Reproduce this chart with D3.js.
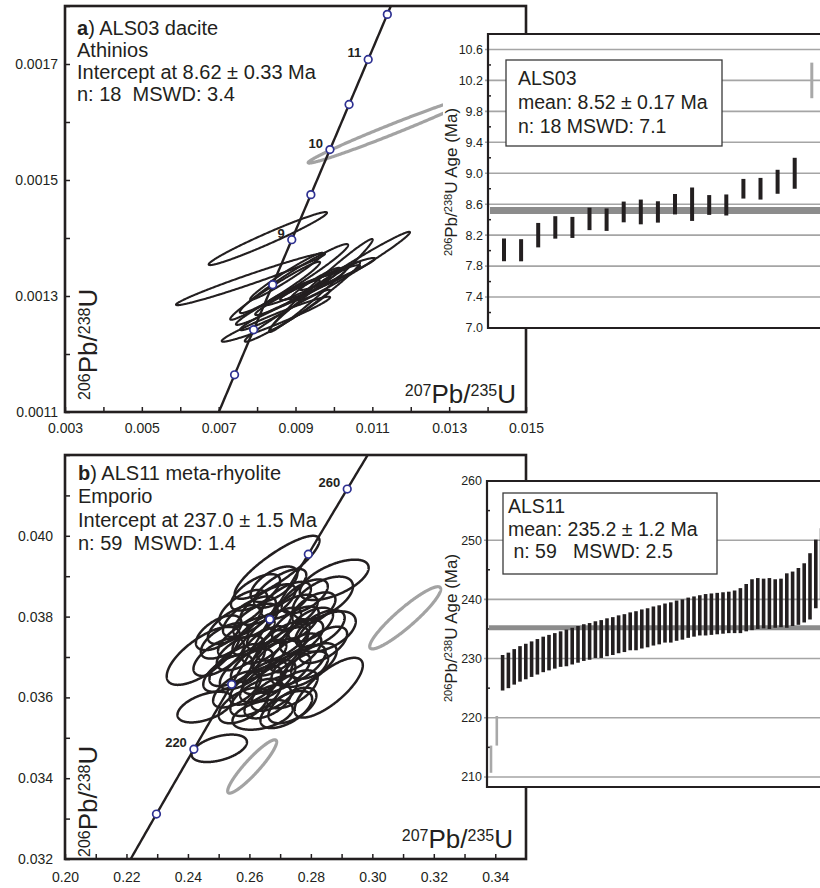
<!DOCTYPE html>
<html>
<head>
<meta charset="utf-8">
<script src="https://cdn.jsdelivr.net/npm/d3@7/dist/d3.min.js"></script>
<style>
  body { margin: 0; background: #fff; }
  svg { display: block; font-family: "Liberation Sans", Arial, Helvetica, sans-serif; }
  svg text { fill: #231f20; white-space: pre; }
</style>
</head>
<body>
<div id="chart"></div>
<script>
// decay constants (1/yr) for the Wetherill concordia
var lambda238 = 1.55125e-10;
var lambda235 = 9.8485e-10;

// ---- panel a : ALS03 ----
var ticksAX = [0.003, 0.004, 0.005, 0.006, 0.007, 0.008, 0.009, 0.010, 0.011, 0.012, 0.013, 0.014, 0.015];
var labelsAX = [0.003, 0.005, 0.007, 0.009, 0.011, 0.013, 0.015];
var ticksAY = [0.0011, 0.0012, 0.0013, 0.0014, 0.0015, 0.0016, 0.0017, 0.0018];
var labelsAY = [0.0011, 0.0013, 0.0015, 0.0017];
var markerAgesA = [7.5, 8, 8.5, 9, 9.5, 10, 10.5, 11, 11.5];
var labelledAgesA = [9, 10, 11];
// [207/235, 206/238, 2s 207/235, 2s 206/238, rho]
var ellipsesA = [
  [0.00828, 0.001399, 0.00154, 0.0000457, 0.975],
  [0.00783, 0.001329, 0.00194, 0.0000448, 0.98],
  [0.01055, 0.001352, 0.00143, 0.0000586, 0.985],
  [0.00896, 0.001330, 0.00141, 0.0000595, 0.97],
  [0.00966, 0.001318, 0.00135, 0.0000802, 0.985],
  [0.00849, 0.001260, 0.00141, 0.0000388, 0.97],
  [0.00879, 0.001266, 0.00111, 0.0000448, 0.975],
  [0.00951, 0.001300, 0.00117, 0.0000586, 0.98],
  [0.00847, 0.001309, 0.00117, 0.0000500, 0.975],
  [0.00912, 0.001306, 0.00117, 0.0000388, 0.97],
  [0.00905, 0.001310, 0.00085, 0.0000259, 0.96],
  [0.00964, 0.001323, 0.00104, 0.0000302, 0.96],
  [0.00834, 0.001267, 0.00078, 0.0000259, 0.96],
  [0.00951, 0.001321, 0.00065, 0.0000276, 0.95],
  [0.00854, 0.001289, 0.00109, 0.0000388, 0.97],
  [0.00877, 0.001334, 0.00095, 0.0000405, 0.975],
  [0.01009, 0.001338, 0.00098, 0.0000276, 0.96]
];
var rejectedA = [
  [0.01150, 0.001587, 0.00217, 0.0000578, 0.987]
];
var linesA = [') ALS03 dacite', 'Athinios', 'Intercept at 8.62 ± 0.33 Ma', 'n: 18  MSWD: 3.4'];

// inset a : 206Pb/238U ages (Ma) and 2s errors, last one rejected
var insetAAges = [8.01, 8.005, 8.20, 8.30, 8.30, 8.41, 8.40, 8.50, 8.50, 8.50, 8.60, 8.60, 8.59, 8.59, 8.80, 8.80, 8.89, 9.00, 10.20];
var insetAErrs = [0.147, 0.143, 0.158, 0.145, 0.136, 0.145, 0.145, 0.134, 0.160, 0.138, 0.132, 0.216, 0.128, 0.136, 0.127, 0.140, 0.155, 0.200, 0.230];
var insetARejected = [18];
var insetALabels = [7.0, 7.4, 7.8, 8.2, 8.6, 9.0, 9.4, 9.8, 10.2, 10.6];
var insetAGrid = [7.4, 7.8, 8.2, 8.6, 9.0, 9.4, 9.8, 10.2, 10.6];
var insetAMinor = [7.2, 7.6, 8.0, 8.4, 8.8, 9.2, 9.6, 10.0, 10.4];
var boxA = ['ALS03', 'mean: 8.52 ± 0.17 Ma', 'n: 18 MSWD: 7.1'];

// ---- panel b : ALS11 ----
var ticksBX = [0.20, 0.21, 0.22, 0.23, 0.24, 0.25, 0.26, 0.27, 0.28, 0.29, 0.30, 0.31, 0.32, 0.33, 0.34];
var labelsBX = [0.20, 0.22, 0.24, 0.26, 0.28, 0.30, 0.32, 0.34];
var ticksBY = [0.032, 0.033, 0.034, 0.035, 0.036, 0.037, 0.038, 0.039, 0.040, 0.041, 0.042];
var labelsBY = [0.032, 0.034, 0.036, 0.038, 0.040];
var markerAgesB = [210, 220, 230, 240, 250, 260];
var labelledAgesB = [220, 260];
var ellipsesB = [
  [0.2690, 0.03922, 0.0138, 0.00078, 0.85],
  [0.2876, 0.03891, 0.0112, 0.00050, 0.60],
  [0.2450, 0.03703, 0.0119, 0.00072, 0.70],
  [0.2456, 0.03576, 0.0090, 0.00038, 0.50],
  [0.2502, 0.03474, 0.0090, 0.00034, 0.45],
  [0.2643, 0.03557, 0.0098, 0.00037, 0.40],
  [0.2858, 0.03624, 0.0111, 0.00074, 0.75],
  [0.2852, 0.03763, 0.0094, 0.00050, 0.50],
  [0.2839, 0.03846, 0.0098, 0.00053, 0.55],
  [0.262, 0.0386, 0.0080, 0.00045, 0.65],
  [0.270, 0.0387, 0.0085, 0.00048, 0.70],
  [0.278, 0.0385, 0.0075, 0.00042, 0.60],
  [0.258, 0.0382, 0.0078, 0.00046, 0.62],
  [0.266, 0.0383, 0.0090, 0.00050, 0.70],
  [0.274, 0.0381, 0.0082, 0.00044, 0.58],
  [0.281, 0.0382, 0.0070, 0.00040, 0.55],
  [0.255, 0.0378, 0.0085, 0.00048, 0.66],
  [0.262, 0.0379, 0.0072, 0.00042, 0.60],
  [0.268, 0.0377, 0.0088, 0.00052, 0.72],
  [0.275, 0.0378, 0.0076, 0.00045, 0.62],
  [0.283, 0.0377, 0.0080, 0.00046, 0.58],
  [0.252, 0.0374, 0.0078, 0.00044, 0.60],
  [0.259, 0.0375, 0.0092, 0.00050, 0.70],
  [0.265, 0.0373, 0.0074, 0.00046, 0.64],
  [0.271, 0.0374, 0.0086, 0.00049, 0.68],
  [0.277, 0.0375, 0.0070, 0.00042, 0.55],
  [0.284, 0.0373, 0.0078, 0.00045, 0.60],
  [0.250, 0.0370, 0.0082, 0.00047, 0.62],
  [0.257, 0.0371, 0.0076, 0.00043, 0.58],
  [0.263, 0.0369, 0.0090, 0.00052, 0.72],
  [0.269, 0.0370, 0.0078, 0.00046, 0.65],
  [0.275, 0.0371, 0.0084, 0.00048, 0.62],
  [0.281, 0.0369, 0.0074, 0.00044, 0.56],
  [0.253, 0.0366, 0.0080, 0.00046, 0.60],
  [0.259, 0.0367, 0.0086, 0.00050, 0.68],
  [0.265, 0.0365, 0.0072, 0.00042, 0.58],
  [0.271, 0.0366, 0.0088, 0.00049, 0.66],
  [0.278, 0.0367, 0.0076, 0.00044, 0.60],
  [0.256, 0.0362, 0.0078, 0.00045, 0.62],
  [0.262, 0.0363, 0.0084, 0.00048, 0.66],
  [0.268, 0.0361, 0.0074, 0.00043, 0.56],
  [0.274, 0.0362, 0.0082, 0.00047, 0.60],
  [0.258, 0.0358, 0.0080, 0.00044, 0.55],
  [0.266, 0.0359, 0.0076, 0.00042, 0.52],
  [0.272, 0.0357, 0.0084, 0.00046, 0.58],
  [0.264, 0.0376, 0.0095, 0.00055, 0.74],
  [0.270, 0.0372, 0.0092, 0.00054, 0.72],
  [0.260, 0.0380, 0.0086, 0.00050, 0.68],
  [0.272, 0.0384, 0.0080, 0.00046, 0.62],
  [0.256, 0.0368, 0.0090, 0.00052, 0.66],
  [0.276, 0.0368, 0.0088, 0.00050, 0.64],
  [0.266, 0.0364, 0.0090, 0.00052, 0.66],
  [0.280, 0.0378, 0.0072, 0.00042, 0.56],
  [0.250, 0.0376, 0.0074, 0.00043, 0.58],
  [0.268, 0.0388, 0.0076, 0.00044, 0.60],
  [0.262, 0.0360, 0.0082, 0.00046, 0.60],
  [0.274, 0.0358, 0.0078, 0.00044, 0.56]
];
var rejectedB = [
  [0.3107, 0.03797, 0.01155, 0.00077, 0.92],
  [0.2609, 0.03429, 0.00797, 0.00066, 0.92]
];
var linesB = [') ALS11 meta-rhyolite', 'Emporio', 'Intercept at 237.0 ± 1.5 Ma', 'n: 59  MSWD: 1.4'];

// inset b : ages (Ma) and 2s errors, first two rejected
var insetBAges = [213.0, 217.8,
  227.6, 228.0, 228.6, 229.1, 229.5, 229.9, 230.3, 230.7, 231.0, 231.3, 231.6,
  231.8, 232.1, 232.4, 232.7, 232.9, 233.2,
  233.3, 233.6, 233.8, 234.1, 234.3, 234.6,
  234.7, 235.0, 235.2, 235.5, 235.7, 236.0,
  236.1, 236.4, 236.6, 236.9, 237.1, 237.3,
  237.4, 237.5, 237.6, 237.7,
  237.8, 237.9, 238.1, 238.6,
  239.1, 239.3, 239.3, 239.3, 239.3, 239.4,
  239.8, 240.1, 240.5, 241.1,
  242.2, 244.3, 246.0, 248.0, 249.5, 251.0];
var insetBErrs = [2.3, 2.5,
  3.0, 3.0, 3.0, 3.0, 3.0, 3.0, 3.0, 3.0, 3.0, 3.0, 3.0,
  3.1, 3.1, 3.1, 3.1, 3.1, 3.1,
  3.2, 3.2, 3.2, 3.2, 3.2, 3.2,
  3.3, 3.3, 3.3, 3.3, 3.3, 3.3,
  3.4, 3.4, 3.4, 3.4, 3.4, 3.4,
  3.5, 3.5, 3.5, 3.5,
  3.5, 3.6, 3.8, 4.0,
  4.3, 4.3, 4.2, 4.3, 4.1, 4.1,
  4.6, 4.6, 4.8, 5.0,
  5.6, 5.8, 6.0, 6.0, 6.5, 7.0];
var insetBRejected = [0, 1];
var insetBLabels = [210, 220, 230, 240, 250, 260];
var insetBGrid = [210, 220, 230, 240, 250];
var insetBMinor = [215, 225, 235, 245, 255];
var boxB = ['ALS11', 'mean: 235.2 ± 1.2 Ma', ' n: 59   MSWD: 2.5'];

(function (d3) {
  'use strict';

  var W = 820, H = 888;
  var ink = '#231f20';
  var svg = d3.select('#chart').append('svg').attr('width', W).attr('height', H);

  function r235(t) { return Math.exp(lambda235 * t * 1e6) - 1; }
  function r238(t) { return Math.exp(lambda238 * t * 1e6) - 1; }
  function inList(list, d) { return list.some(function (v) { return Math.abs(v - d) < 1e-9; }); }

  // error ellipse from 2s errors and correlation
  function ellipsePoints(e) {
    var k = Math.sqrt(1 - e[4] * e[4]);
    return d3.range(0, 360, 1).map(function (deg) {
      var a = deg * Math.PI / 180;
      return [e[0] + e[2] * Math.cos(a), e[1] + e[3] * (e[4] * Math.cos(a) + k * Math.sin(a))];
    });
  }

  // "206Pb/238U" style label, even parts are superscripts
  function isoLabel(g, x, y, rot, anchor, parts, big, small, shift) {
    var t = g.append('text')
      .attr('transform', 'translate(' + x + ',' + y + ') rotate(' + rot + ')')
      .attr('text-anchor', anchor);
    var up = false;
    parts.forEach(function (p, i) {
      var sup = i % 2 === 0;
      var dy = 0;
      if (sup && !up) dy = -shift;
      if (!sup && up) dy = shift;
      up = sup;
      t.append('tspan').attr('dy', dy).style('font-size', (sup ? small : big) + 'px').text(p);
    });
  }

  function styleAxis(ga) {
    ga.attr('font-size', null).attr('font-family', null);
    ga.select('.domain').remove();
    ga.selectAll('line').attr('stroke', ink).attr('stroke-width', 1.5);
    ga.selectAll('text').style('font-size', '14px');
  }

  function drawPanel(p) {
    var x = d3.scaleLinear().domain(p.xDomain).range([p.left, p.right]);
    var y = d3.scaleLinear().domain(p.yDomain).range([p.bottom, p.top]);
    var g = svg.append('g');

    svg.append('clipPath').attr('id', 'clip-' + p.id)
      .append('rect')
      .attr('x', p.left).attr('y', p.top)
      .attr('width', p.right - p.left).attr('height', p.bottom - p.top);
    var plot = g.append('g').attr('clip-path', 'url(#clip-' + p.id + ')');

    var ell = d3.line()
      .x(function (d) { return x(d[0]); })
      .y(function (d) { return y(d[1]); })
      .curve(d3.curveLinearClosed);

    plot.selectAll('path.ell').data(p.ellipses).enter().append('path')
      .attr('class', 'ell')
      .attr('d', function (e) { return ell(ellipsePoints(e)); })
      .attr('fill', 'none').attr('stroke', ink).attr('stroke-width', p.ellW);

    plot.selectAll('path.rej').data(p.rejected).enter().append('path')
      .attr('class', 'rej')
      .attr('d', function (e) { return ell(ellipsePoints(e)); })
      .attr('fill', 'none').attr('stroke', '#a3a3a3').attr('stroke-width', 3.2);

    // concordia curve
    var ages = d3.range(p.ageRange[0], p.ageRange[1], (p.ageRange[1] - p.ageRange[0]) / 200);
    plot.append('path').datum(ages)
      .attr('d', d3.line().x(function (t) { return x(r235(t)); }).y(function (t) { return y(r238(t)); }))
      .attr('fill', 'none').attr('stroke', ink).attr('stroke-width', 2.4);

    plot.selectAll('circle').data(p.markers).enter().append('circle')
      .attr('cx', function (t) { return x(r235(t)); })
      .attr('cy', function (t) { return y(r238(t)); })
      .attr('r', 3.8)
      .attr('fill', '#fff').attr('stroke', '#2e3192').attr('stroke-width', 1.7);

    g.selectAll('text.age').data(p.labelled).enter().append('text')
      .attr('class', 'age')
      .attr('x', function (t) { return x(r235(t)) - 7; })
      .attr('y', function (t) { return y(r238(t)) - 2; })
      .attr('text-anchor', 'end')
      .style('font-size', '13px').style('font-weight', 'bold')
      .text(String);

    // axes, ticks pointing inwards
    var gx = g.append('g').attr('transform', 'translate(0,' + p.bottom + ')')
      .call(d3.axisBottom(x).tickValues(p.xTicks).tickSizeInner(-5).tickSizeOuter(0).tickPadding(p.xPad)
        .tickFormat(function (d) { return inList(p.xLabels, d) ? p.xFormat(d) : ''; }));
    styleAxis(gx);
    var gy = g.append('g').attr('transform', 'translate(' + p.left + ',0)')
      .call(d3.axisLeft(y).tickValues(p.yTicks).tickSizeInner(-5).tickSizeOuter(0).tickPadding(p.yPad)
        .tickFormat(function (d) { return inList(p.yLabels, d) ? p.yFormat(d) : ''; }));
    styleAxis(gy);

    g.append('rect')
      .attr('x', p.left).attr('y', p.top)
      .attr('width', p.right - p.left).attr('height', p.bottom - p.top)
      .attr('fill', 'none').attr('stroke', ink).attr('stroke-width', 2.6);

    // sample text
    p.lines.forEach(function (l, i) {
      var t = g.append('text').attr('x', p.textX).attr('y', p.textY + i * p.lineH).style('font-size', '20px');
      if (i === 0) t.append('tspan').style('font-weight', 'bold').text(p.tag);
      t.append('tspan').text(l);
    });

    isoLabel(g, p.xLabelPos[0], p.xLabelPos[1], 0, 'end', ['207', 'Pb/', '235', 'U'], 26, 16, 7);
    isoLabel(g, p.yLabelPos[0], p.yLabelPos[1], -90, 'start', ['206', 'Pb/', '238', 'U'], 26, 16, 7);
  }

  function drawInset(q) {
    var y = d3.scaleLinear().domain(q.yDomain).range([q.bottom, q.top]);
    var x = d3.scaleLinear().domain([0, 1]).range([q.x0, q.x0 + q.step]);
    var right = W + 10;
    var g = svg.append('g');

    g.append('rect')
      .attr('x', q.bgLeft).attr('y', q.top)
      .attr('width', right - q.bgLeft).attr('height', q.bottom - q.top)
      .attr('fill', '#fff');

    g.selectAll('line.grid').data(q.grid).enter().append('line')
      .attr('class', 'grid')
      .attr('x1', q.left - 3).attr('x2', right)
      .attr('y1', function (d) { return y(d); }).attr('y2', function (d) { return y(d); })
      .attr('stroke', '#a5a5a5').attr('stroke-width', 1.6);

    g.selectAll('line.minor').data(q.minor).enter().append('line')
      .attr('class', 'minor')
      .attr('x1', q.left - 1).attr('x2', q.left + 3)
      .attr('y1', function (d) { return y(d); }).attr('y2', function (d) { return y(d); })
      .attr('stroke', ink).attr('stroke-width', 1.5);

    g.selectAll('text.tick').data(q.labels).enter().append('text')
      .attr('class', 'tick')
      .attr('x', q.left - 5)
      .attr('y', function (d) { return y(d); })
      .attr('dy', '0.35em').attr('text-anchor', 'end')
      .style('font-size', '12.5px')
      .text(q.format);

    g.append('line')
      .attr('x1', q.left + 2).attr('x2', right)
      .attr('y1', y(q.mean)).attr('y2', y(q.mean))
      .attr('stroke', '#8c8c8c').attr('stroke-width', q.meanW);

    g.selectAll('line.bar').data(d3.range(q.ages.length)).enter().append('line')
      .attr('class', 'bar')
      .attr('x1', function (i) { return x(i); }).attr('x2', function (i) { return x(i); })
      .attr('y1', function (i) { return y(q.ages[i] - q.errs[i]); })
      .attr('y2', function (i) { return y(q.ages[i] + q.errs[i]); })
      .attr('stroke', function (i) { return q.rejected.indexOf(i) >= 0 ? '#a8a8a8' : ink; })
      .attr('stroke-width', function (i) { return q.rejected.indexOf(i) >= 0 ? q.barW - 1 : q.barW; });

    g.append('path')
      .attr('d', 'M' + right + ',' + q.top + 'H' + q.left + 'V' + q.bottom + 'H' + right)
      .attr('fill', 'none').attr('stroke', ink).attr('stroke-width', 2.2);

    g.append('rect')
      .attr('x', q.box[0]).attr('y', q.box[1]).attr('width', q.box[2]).attr('height', q.box[3])
      .attr('fill', '#fff').attr('stroke', '#3a3a3a').attr('stroke-width', 1.3);
    q.lines.forEach(function (l, i) {
      g.append('text').attr('x', q.textX).attr('y', q.textY + i * q.lineH)
        .style('font-size', '19.5px').text(l);
    });

    isoLabel(g, 457, q.labelY, -90, 'middle', ['206', 'Pb/', '238', 'U Age (Ma)'], 17, 11, 5);
  }

  drawPanel({
    id: 'a', left: 65, right: 526, top: 6, bottom: 412,
    xDomain: [0.003, 0.015], yDomain: [0.0011, 0.0018],
    xTicks: ticksAX, xLabels: labelsAX, xFormat: d3.format('.3f'), xPad: 11,
    yTicks: ticksAY, yLabels: labelsAY, yFormat: d3.format('.4f'), yPad: 7,
    ellipses: ellipsesA, rejected: rejectedA, ellW: 2.1,
    markers: markerAgesA, labelled: labelledAgesA, ageRange: [6.5, 12.5],
    tag: 'a', lines: linesA, textX: 77, textY: 35, lineH: 22.1,
    xLabelPos: [516, 403], yLabelPos: [97, 400]
  });

  drawInset({
    left: 488, top: 34, bottom: 328, bgLeft: 443,
    yDomain: [7.0, 10.8], grid: insetAGrid, minor: insetAMinor, labels: insetALabels, format: d3.format('.1f'),
    x0: 504, step: 17.1, ages: insetAAges, errs: insetAErrs, rejected: insetARejected,
    mean: 8.52, meanW: 7, barW: 4,
    box: [506, 60, 216, 86], textX: 518, textY: 85, lineH: 24, lines: boxA, labelY: 182
  });

  drawPanel({
    id: 'b', left: 65, right: 526, top: 455, bottom: 859,
    xDomain: [0.20, 0.35], yDomain: [0.032, 0.042],
    xTicks: ticksBX, xLabels: labelsBX, xFormat: d3.format('.2f'), xPad: 13,
    yTicks: ticksBY, yLabels: labelsBY, yFormat: d3.format('.3f'), yPad: 12,
    ellipses: ellipsesB, rejected: rejectedB, ellW: 2.5,
    markers: markerAgesB, labelled: labelledAgesB, ageRange: [195, 275],
    tag: 'b', lines: linesB, textX: 78, textY: 480, lineH: 23.3,
    xLabelPos: [513, 848], yLabelPos: [97, 857]
  });

  drawInset({
    left: 487, top: 481, bottom: 787, bgLeft: 443,
    yDomain: [208.3, 260], grid: insetBGrid, minor: insetBMinor, labels: insetBLabels, format: d3.format('d'),
    x0: 491, step: 5.8, ages: insetBAges, errs: insetBErrs, rejected: insetBRejected,
    mean: 235.2, meanW: 5, barW: 3.6,
    box: [503, 493, 214, 81], textX: 508, textY: 513, lineH: 22.5, lines: boxB, labelY: 628
  });
})(window.d3);
</script>
</body>
</html>
